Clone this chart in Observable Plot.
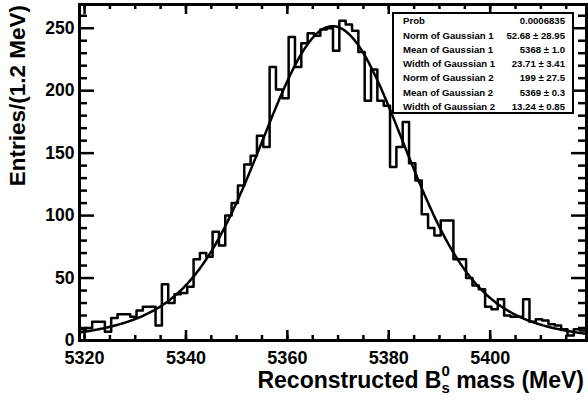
<!DOCTYPE html>
<html>
<head>
<meta charset="utf-8">
<script src="https://cdn.jsdelivr.net/npm/d3@7"></script>
<script src="https://cdn.jsdelivr.net/npm/@observablehq/plot@0.6"></script>
<style>
  html, body { margin: 0; padding: 0; background: white; overflow: hidden; }
  svg text { font-family: "Liberation Sans", Arial, sans-serif; font-weight: bold; }
</style>
</head>
<body>
<div id="chart"></div>
<script>
// ---- data ----
const binStart = 5319;
const binWidth = 1.25;
const counts = [
  9, 10, 15, 15, 7, 18, 21, 21, 19, 24,
  27, 27, 12, 45, 30, 37, 38, 43, 65, 70,
  67, 87, 76, 100, 110, 124, 141, 148, 164, 155,
  219, 201, 194, 243, 219, 238, 246, 244, 249, 250,
  232, 256, 253, 248, 231, 192, 217, 192, 188, 139,
  155, 175, 142, 128, 101, 90, 84, 96, 96, 65,
  65, 50, 44, 41, 27, 25, 33, 20, 19, 19,
  33, 15, 17, 16, 13, 12, 9, 4, 9, 8
];
const fitNorm = [52.68, 199];
const fitMean = [5368, 5369];
const fitWidth = [23.71, 13.24];
const xMajor = [5320, 5340, 5360, 5380, 5400];
const xMinor = [5320, 5325, 5330, 5335, 5340, 5345, 5350, 5355, 5360, 5365, 5370, 5375, 5380, 5385, 5390, 5395, 5400, 5405, 5410, 5415];
const yMajor = [0, 50, 100, 150, 200, 250];
const yMinor = [10, 20, 30, 40, 60, 70, 80, 90, 110, 120, 130, 140, 160, 170, 180, 190, 210, 220, 230, 240, 260];
const statLabels = ["Prob", "Norm of Gaussian 1", "Mean of Gaussian 1", "Width of Gaussian 1", "Norm of Gaussian 2", "Mean of Gaussian 2", "Width of Gaussian 2"];
const statValues = ["0.0006835", "52.68 \u00b1 28.95", "5368 \u00b1 1.0", "23.71 \u00b1 3.41", "199 \u00b1 27.5", "5369 \u00b1 0.3", "13.24 \u00b1 0.85"];
const xTitle = "Reconstructed B";
const yTitle = "Entries/(1.2 MeV)";

// ---- derived tables ----
const nb = counts.length;
const xMin = binStart, xMax = binStart + nb * binWidth;
const histPts = [{x: xMin, y: 0}]
  .concat(counts.map((c, i) => ({x: binStart + i * binWidth, y: c})))
  .concat([{x: xMax, y: counts[nb - 1]}, {x: xMax, y: 0}]);
const fitPts = d3.range(xMin, xMax + 0.001, 0.2).map(x => ({
  x,
  y: fitNorm.reduce((s, n, i) => s + n * Math.exp(-0.5 * ((x - fitMean[i]) / fitWidth[i]) ** 2), 0)
}));

const W = 588, H = 402, mL = 79, mR = 2, mT = 4, mB = 62;
const fw = W - mL - mR, fh = H - mT - mB;
const sw = 2.5;

const chart = Plot.plot({
  width: W, height: H,
  marginLeft: mL, marginRight: mR, marginTop: mT, marginBottom: mB,
  style: {fontFamily: "Liberation Sans, Arial, sans-serif", background: "white", color: "black", display: "block"},
  x: {domain: [xMin, xMax]},
  y: {domain: [0, 269]},
  marks: [
    Plot.line(histPts, {x: "x", y: "y", curve: "step-after", stroke: "black", strokeWidth: sw, clip: true}),
    Plot.line(fitPts, {x: "x", y: "y", stroke: "black", strokeWidth: sw, clip: true}),
    // ticks (inside the frame, ROOT style)
    Plot.tickX(xMajor, {x: d => d, insetTop: fh - 10, stroke: "black", strokeWidth: sw}),
    Plot.tickX(xMinor, {x: d => d, insetTop: fh - 5, stroke: "black", strokeWidth: sw}),
    Plot.tickX(xMajor, {x: d => d, insetBottom: fh - 10, stroke: "black", strokeWidth: sw}),
    Plot.tickX(xMinor, {x: d => d, insetBottom: fh - 5, stroke: "black", strokeWidth: sw}),
    Plot.tickY(yMajor, {y: d => d, insetRight: fw - 15, stroke: "black", strokeWidth: sw}),
    Plot.tickY(yMinor, {y: d => d, insetRight: fw - 8, stroke: "black", strokeWidth: sw}),
    Plot.tickY(yMajor, {y: d => d, insetLeft: fw - 15, stroke: "black", strokeWidth: sw}),
    Plot.tickY(yMinor, {y: d => d, insetLeft: fw - 8, stroke: "black", strokeWidth: sw}),
    Plot.axisX({ticks: xMajor, tickSize: 0, tickPadding: 11, fontSize: 18, fontWeight: "bold", tickFormat: d => String(d), label: null}),
    Plot.axisY({ticks: yMajor, tickSize: 0, tickPadding: 5, fontSize: 17.5, fontWeight: "bold", tickFormat: d => String(d), label: null}),
    Plot.frame({stroke: "black", strokeWidth: 3})
  ]
});
document.getElementById("chart").appendChild(chart);

// ---- titles and stats box ----
const svg = d3.select(chart);
const xt = svg.append("text")
  .attr("x", W - 4).attr("y", 388)
  .attr("text-anchor", "end").attr("font-size", 23).attr("font-weight", "bold").attr("fill", "black");
xt.append("tspan").text(xTitle);
xt.append("tspan").attr("font-size", 15).attr("dy", 5).text("s");
xt.append("tspan").attr("font-size", 15).attr("dx", -8.4).attr("dy", -17).text("0");
xt.append("tspan").attr("dy", 12).text(" mass (MeV)");

svg.append("text")
  .attr("transform", `translate(25,${mT + 1}) rotate(-90)`)
  .attr("text-anchor", "end").attr("font-size", 22.5).attr("font-weight", "bold").attr("fill", "black")
  .text(yTitle);

const bx = 393, by = 13, bw = 180, bh = 100;
const box = svg.append("g").attr("class", "stats");
box.append("rect").attr("x", bx).attr("y", by).attr("width", bw).attr("height", bh)
  .style("fill", "white").style("stroke", "black").style("stroke-width", "2px");
statLabels.forEach((t, i) => {
  const yy = by + 7.7 + i * 14.3 + 3.5;
  box.append("text").attr("x", bx + 10).attr("y", yy).attr("text-anchor", "start")
    .attr("font-size", 9.6).attr("fill", "black").text(t);
  box.append("text").attr("x", bx + bw - 8).attr("y", yy).attr("text-anchor", "end")
    .attr("font-size", 9.6).attr("fill", "black").text(statValues[i]);
});
</script>
</body>
</html>
